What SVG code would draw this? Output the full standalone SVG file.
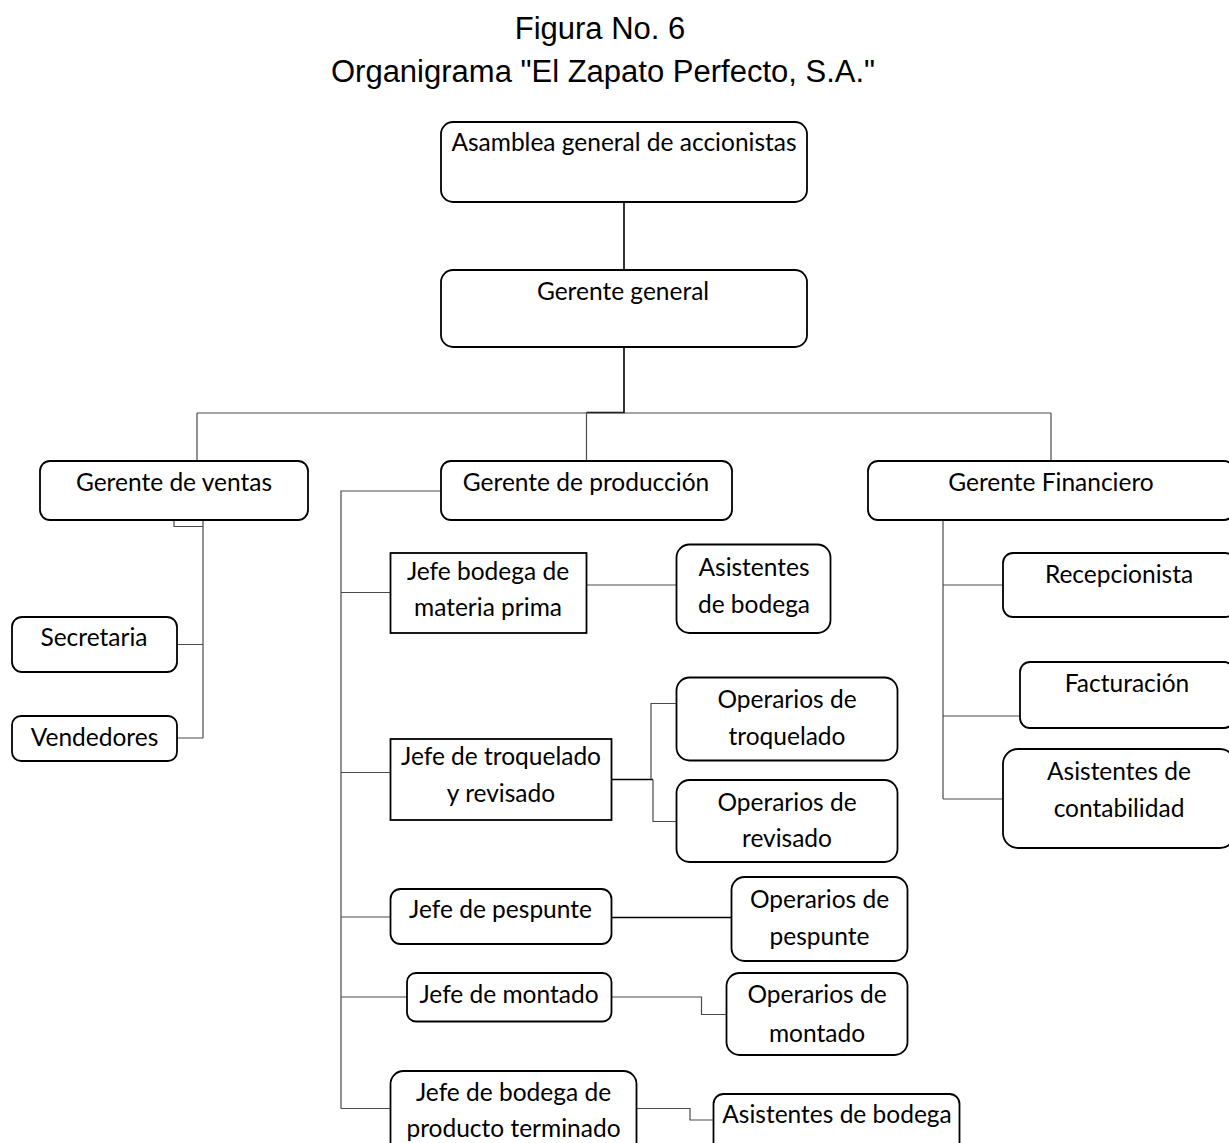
<svg xmlns="http://www.w3.org/2000/svg" width="1229" height="1143" viewBox="0 0 1229 1143">
<style>
.bg{fill:#ffffff}
.box{fill:#ffffff;stroke:#000000;stroke-width:1.8}
.t{font-family:Lato,"Liberation Sans",sans-serif;font-size:24.5px;fill:#000000;text-anchor:middle}
.title{font-family:"Liberation Sans",Arial,sans-serif;font-size:31px;fill:#000000;text-anchor:middle}
.c{fill:none;stroke:#4a4a4a;stroke-width:1.2}
.ck{fill:none;stroke:#000000;stroke-width:1.6}
</style>
<rect class="bg" x="0" y="0" width="1229" height="1143"/>
<g id="titles">
<text class="title" x="600" y="39">Figura No. 6</text>
<text class="title" x="603" y="82">Organigrama "El Zapato Perfecto, S.A."</text>
</g>
<g id="connectors">
<path class="ck" d="M624,202 V270 M624,347 V412.5 H586.5"/>
<path class="c" d="M197,413 H1051 M197,413 V461 M586.5,413 V461 M1051,413 V461"/>
<path class="c" d="M174,520 V526.5 H203 M203,520 V738 M177,644.5 H203 M177,738 H203"/>
<path class="c" d="M441,491 H341 V1108.5 M341,592.5 H390.5 M341,772.5 H390.5 M341,917 H390.5 M341,997 H407 M341,1108.5 H390.5"/>
<path class="c" d="M586.5,585 H676.5"/>
<path class="ck" d="M611.5,779.5 H653"/>
<path class="c" d="M651,779.5 V703.5 H676.5 M653,779.5 V821.5 H676.5"/>
<path class="ck" d="M611.5,917.5 H731.5"/>
<path class="c" d="M611.5,997 H701.5 V1014.5 H726.5"/>
<path class="c" d="M636.5,1108.5 H690 V1120 H713.5"/>
<path class="c" d="M943,520.5 V799 M943,585 H1003 M943,716 H1020 M943,799 H1003"/>
</g>
<g id="n-asamblea"><rect class="box" x="441" y="122" width="366" height="80" rx="12"/><text class="t" x="624" y="151">Asamblea general de accionistas</text></g>
<g id="n-gerente-general"><rect class="box" x="441" y="270" width="366" height="77" rx="12"/><text class="t" x="623" y="300">Gerente general</text></g>
<g id="n-ventas"><rect class="box" x="40" y="461" width="268" height="59" rx="10"/><text class="t" x="174" y="491">Gerente de ventas</text></g>
<g id="n-produccion"><rect class="box" x="441" y="461" width="291" height="59" rx="10"/><text class="t" x="586" y="491">Gerente de producción</text></g>
<g id="n-financiero"><rect class="box" x="868" y="461" width="366" height="59" rx="10"/><text class="t" x="1051" y="491">Gerente Financiero</text></g>
<g id="n-secretaria"><rect class="box" x="12" y="617" width="165" height="55" rx="10"/><text class="t" x="94" y="646">Secretaria</text></g>
<g id="n-vendedores"><rect class="box" x="12" y="716" width="165" height="45" rx="9"/><text class="t" x="94.5" y="746">Vendedores</text></g>
<g id="n-jefe-materia-prima"><rect class="box" x="390.5" y="553" width="196" height="80"/><text class="t" x="488" y="580">Jefe bodega de</text><text class="t" x="488" y="616">materia prima</text></g>
<g id="n-asistentes-bodega"><rect class="box" x="676.5" y="544.5" width="154" height="88.5" rx="13"/><text class="t" x="754" y="576">Asistentes</text><text class="t" x="754" y="613">de bodega</text></g>
<g id="n-operarios-troquelado"><rect class="box" x="676.5" y="677.5" width="221" height="83" rx="13"/><text class="t" x="787" y="708">Operarios de</text><text class="t" x="787" y="745">troquelado</text></g>
<g id="n-jefe-troquelado"><rect class="box" x="390.5" y="739" width="221" height="81"/><text class="t" x="501" y="765">Jefe de troquelado</text><text class="t" x="501" y="802">y revisado</text></g>
<g id="n-operarios-revisado"><rect class="box" x="676.5" y="780" width="221" height="82" rx="13"/><text class="t" x="787" y="811">Operarios de</text><text class="t" x="787" y="847">revisado</text></g>
<g id="n-recepcionista"><rect class="box" x="1003" y="553" width="232" height="64" rx="10"/><text class="t" x="1119" y="583">Recepcionista</text></g>
<g id="n-facturacion"><rect class="box" x="1020" y="662" width="214" height="66" rx="10"/><text class="t" x="1127" y="692">Facturación</text></g>
<g id="n-asistentes-contabilidad"><rect class="box" x="1003" y="749" width="232" height="99" rx="15"/><text class="t" x="1119" y="780">Asistentes de</text><text class="t" x="1119" y="817">contabilidad</text></g>
<g id="n-jefe-pespunte"><rect class="box" x="390.5" y="889" width="221" height="55" rx="10"/><text class="t" x="500.5" y="918">Jefe de pespunte</text></g>
<g id="n-operarios-pespunte"><rect class="box" x="731.5" y="877" width="176" height="84" rx="13"/><text class="t" x="819.5" y="908">Operarios de</text><text class="t" x="819.5" y="945">pespunte</text></g>
<g id="n-jefe-montado"><rect class="box" x="407" y="973" width="204.5" height="48.5" rx="9"/><text class="t" x="509" y="1003">Jefe de montado</text></g>
<g id="n-operarios-montado"><rect class="box" x="726.5" y="973" width="181" height="82" rx="13"/><text class="t" x="817" y="1003">Operarios de</text><text class="t" x="817" y="1042">montado</text></g>
<g id="n-jefe-producto-terminado"><rect class="box" x="390.5" y="1071" width="246" height="90" rx="13"/><text class="t" x="513.5" y="1101">Jefe de bodega de</text><text class="t" x="513.5" y="1137">producto terminado</text></g>
<g id="n-asistentes-bodega-2"><rect class="box" x="713.5" y="1094" width="246" height="70" rx="10"/><text class="t" x="837" y="1123">Asistentes de bodega</text></g>
</svg>
